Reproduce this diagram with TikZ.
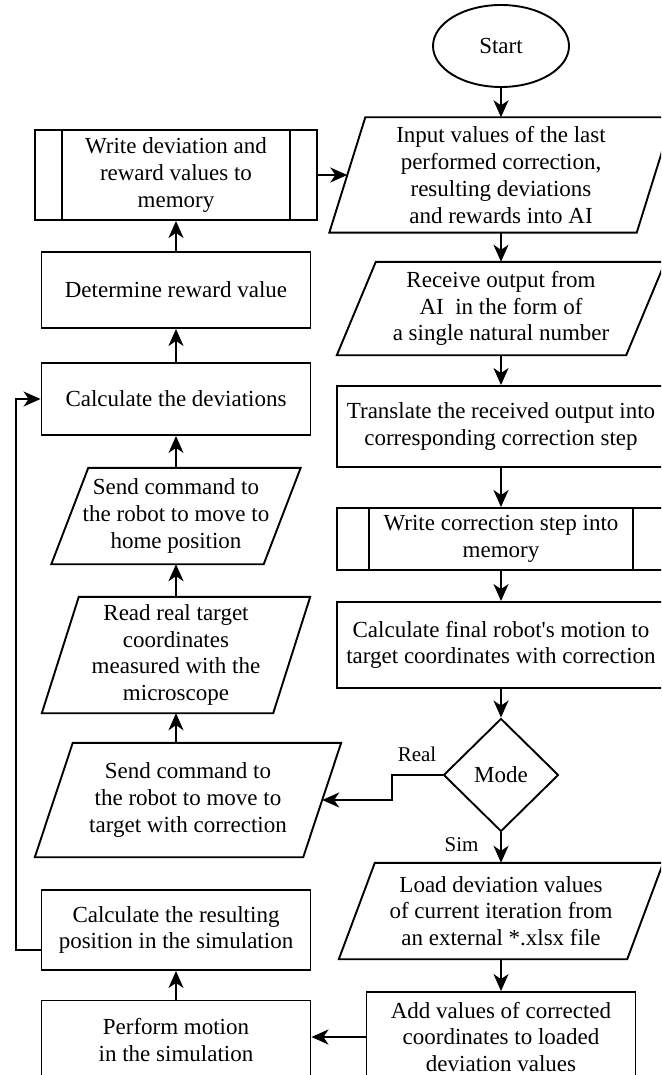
\documentclass[tikz,border=0pt]{standalone}
\usepackage{fontspec}
\setmainfont{Liberation Serif}
\usetikzlibrary{shapes.geometric,arrows.meta}

\begin{document}
\begin{tikzpicture}
  [x=1pt,y=-1pt]
      \tikzstyle{text_style} = [align=center, inner sep=0, font=\fontsize{23}{26.7}\selectfont]
      \tikzstyle{line_style} = [draw=black, line width=1.9]
      \tikzstyle{box_style} = [text_style, line_style, rectangle]
      \tikzstyle{edge_style} = [line_style, -{Stealth[length=17pt, width=15pt, inset=5pt]}]
      \tikzstyle{label_style} = [inner sep=2pt, font=\fontsize{21}{25}\selectfont]
  \useasboundingbox (0,0) rectangle (661,1075);
  \clip (0,0) rectangle (661,1075);
  \fill[white] (0,0) rectangle (661,1075);
  \node[text_style, line_style, ellipse, minimum width=136, minimum height=82] (n0) at (501,46) {Start};
  \node[text_style, minimum width=307, minimum height=115] (n1) at (501,175) {Input values of the last\\performed correction,\\resulting deviations\\and rewards into AI};
  \node[text_style, minimum width=289, minimum height=93] (n2) at (501,308.5) {Receive output from\\AI\ \ in the form of\\a single natural number};
  \node[box_style, minimum width=328, minimum height=81] (n3) at (501,426.5) {Translate the received output into\\corresponding correction step};
  \node[box_style, minimum width=328, minimum height=62] (n4) at (501,539) {Write correction step into\\memory};
  \node[box_style, minimum width=328, minimum height=86] (n5) at (501,645) {Calculate final robot\textquotesingle s motion to\\target coordinates with correction};
  \node[text_style, line_style, diamond, minimum width=115, minimum height=113] (n6) at (501,775) {Mode};
  \node[text_style, minimum width=288, minimum height=96] (n7) at (501,911) {Load deviation values\\of current iteration from\\an external *.xlsx file};
  \node[box_style, minimum width=269, minimum height=90] (n8) at (501,1037) {Add values of corrected\\coordinates to loaded\\deviation values};
  \node[box_style, minimum width=269, minimum height=79] (n9) at (176,1040) {Perform motion\\in the simulation};
  \node[box_style, minimum width=269, minimum height=80] (n10) at (176,930) {Calculate the resulting\\position in the simulation};
  \node[text_style, minimum width=268, minimum height=114] (n11) at (188,800) {Send command to\\the robot to move to\\target with correction};
  \node[text_style, minimum width=231, minimum height=116] (n12) at (176,655) {Read real target\\coordinates\\measured with the\\microscope};
  \node[text_style, minimum width=212, minimum height=96] (n13) at (176,516) {Send command to\\the robot to move to\\home position};
  \node[box_style, minimum width=269, minimum height=72] (n14) at (176,399) {Calculate the deviations};
  \node[box_style, minimum width=269, minimum height=76] (n15) at (176,290) {Determine reward value};
  \node[box_style, minimum width=282, minimum height=90] (n16) at (176,175) {Write deviation and\\reward values to\\memory};
  \draw[line_style] ([xshift=-18pt]n1.south west) -- ([xshift=18pt]n1.north west) -- ([xshift=18pt]n1.north east) -- ([xshift=-18pt]n1.south east) -- cycle;
  \draw[line_style] ([xshift=-19.5pt]n2.south west) -- ([xshift=19.5pt]n2.north west) -- ([xshift=19.5pt]n2.north east) -- ([xshift=-19.5pt]n2.south east) -- cycle;
  \draw[line_style] ([xshift=-18pt]n7.south west) -- ([xshift=18pt]n7.north west) -- ([xshift=18pt]n7.north east) -- ([xshift=-18pt]n7.south east) -- cycle;
  \draw[line_style] ([xshift=-19pt]n11.south west) -- ([xshift=19pt]n11.north west) -- ([xshift=19pt]n11.north east) -- ([xshift=-19pt]n11.south east) -- cycle;
  \draw[line_style] ([xshift=-18.5pt]n12.south west) -- ([xshift=18.5pt]n12.north west) -- ([xshift=18.5pt]n12.north east) -- ([xshift=-18.5pt]n12.south east) -- cycle;
  \draw[line_style] ([xshift=-18.5pt]n13.south west) -- ([xshift=18.5pt]n13.north west) -- ([xshift=18.5pt]n13.north east) -- ([xshift=-18.5pt]n13.south east) -- cycle;
  \draw[line_style] ([xshift=33pt]n4.north west) -- ([xshift=33pt]n4.south west);
  \draw[line_style] ([xshift=-33pt]n4.north east) -- ([xshift=-33pt]n4.south east);
  \draw[line_style] ([xshift=28pt]n16.north west) -- ([xshift=28pt]n16.south west);
  \draw[line_style] ([xshift=-28pt]n16.north east) -- ([xshift=-28pt]n16.south east);
  \draw[edge_style] (n0) edge (n1);
  \draw[edge_style] (n1) edge (n2);
  \draw[edge_style] (n2) edge (n3);
  \draw[edge_style] (n3) edge (n4);
  \draw[edge_style] (n4) edge (n5);
  \draw[edge_style] (n5) edge (n6);
  \draw[edge_style] (n6) edge node[label_style, pos=0.4, left=19.5pt] {Sim} (n7);
  \draw[edge_style] (n7) edge (n8);
  \draw[edge_style] (n8.west) -- (n8.west -| n9.east);
  \draw[edge_style] (n9) edge (n10);
  \draw[edge_style] ([yshift=-20pt]n10.west) -- ++(-25,0) |- (n14.west);
  \draw[edge_style] (n6.west) -- node[label_style, above=10pt] {Real} ++(-51,0) |- (n11.east);
  \draw[edge_style] (n11.north -| n12.south) -- (n12.south);
  \draw[edge_style] (n12) edge (n13);
  \draw[edge_style] (n13) edge (n14);
  \draw[edge_style] (n14) edge (n15);
  \draw[edge_style] (n15) edge (n16);
  \draw[edge_style] (n16) edge (n1);
\end{tikzpicture}
\end{document}
